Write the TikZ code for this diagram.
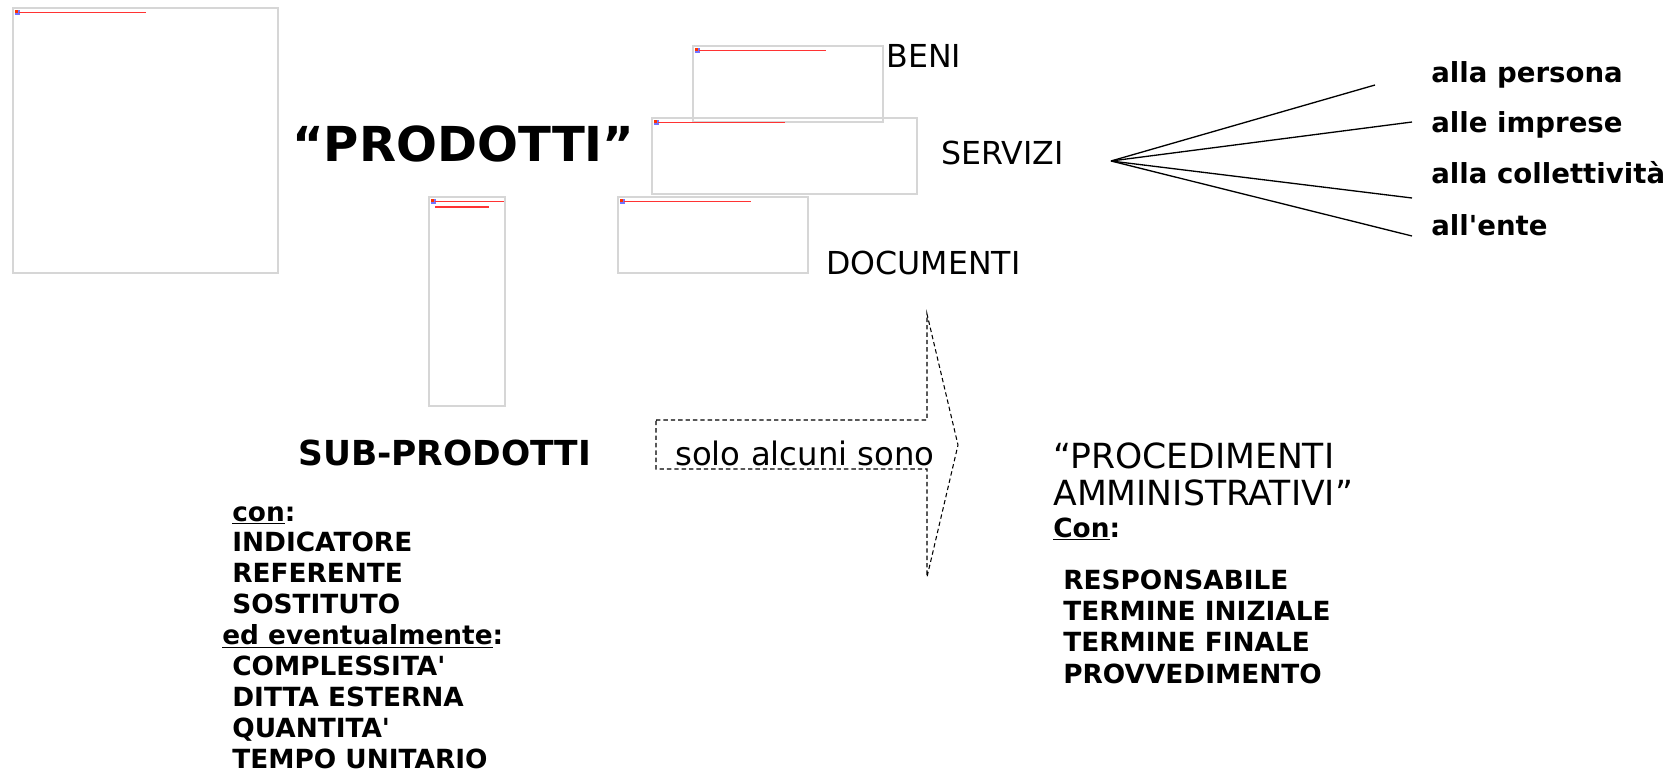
\documentclass[tikz,border=0pt]{standalone}
\usepackage{fontspec}
\setmainfont{DejaVu Sans}
\usetikzlibrary{positioning}

\begin{document}
\begin{tikzpicture}[x=0.02cm,y=-0.02cm,
  imgbox/.style={draw=black!16,line width=0.8pt},
  brokenlink/.style={red!80,line width=0.9pt},
  txt/.style={inner sep=0pt,anchor=base west},
  plain/.style={txt,font=\fontsize{18}{22}\selectfont},
  procfont/.style={txt,font=\fontsize{19.7}{24}\selectfont},
  title/.style={txt,font=\bfseries\fontsize{27.4}{33}\selectfont},
  subtitle/.style={txt,font=\bfseries\fontsize{19.6}{24}\selectfont},
  fanlbl/.style={txt,font=\bfseries\fontsize{15.7}{19}\selectfont},
  listtxt/.style={txt,font=\bfseries\fontsize{15}{18}\selectfont},
  fanline/.style={line width=0.75pt},
  bigarrow/.style={dashed,line width=0.6pt,dash pattern=on 2.5pt off 1.7pt}]
\useasboundingbox (0,0) rectangle (1680,771);
% broken images
\foreach \xa/\ya/\xb/\yb/\bl in {13/8/278/273/127, 693/46/883/122/127,
    652/118/917/194/127, 618/197/808/273/127, 429/197/505/406/69}{
  \draw[imgbox] (\xa,\ya) rectangle (\xb,\yb);
  \fill[blue!55] (\xa+1.5,\ya+2) rectangle ++(5,5);
  \fill[red!80!yellow] (\xa+1.5,\ya+2) rectangle ++(3,3);
  \draw[brokenlink] (\xa+6,\ya+4.5) -- ++(\bl,0);
}
\draw[brokenlink] (435,207) -- (489,207);
% headings
\node[title] (prod) at (292,161) {“PRODOTTI”};
\node[plain] (beni) at (886,67) {BENI};
\node[plain] (serv) at (941,164) {SERVIZI};
\node[plain] (doc) at (826,274) {DOCUMENTI};
\node[subtitle] (subprod) at (298,465) {SUB-PRODOTTI};
% fan
\coordinate (fan) at (1111,161);
\coordinate (e1) at (1375,85);
\coordinate (e2) at (1412,122);
\coordinate (e3) at (1412,198);
\coordinate (e4) at (1412,236);
\foreach \e in {e1,e2,e3,e4}
  \draw[fanline] (fan) -- (\e);
\node[fanlbl] (pers) at (1431,82) {alla persona};
\node[fanlbl] (impr) at (1431,132) {alle imprese};
\node[fanlbl] (coll) at (1431,183) {alla collettività};
\node[fanlbl] (ente) at (1431,235) {all\textquotesingle ente};
% arrow
\draw[bigarrow] (656,420) -- (927,420) -- (927,314) -- (958,445)
  -- (927,577) -- (927,469) -- (656,469) -- cycle;
\node[plain,font=\fontsize{18.4}{22}\selectfont] (solo) at (675,465) {solo alcuni sono};
% sub-prodotti list
\foreach \t [count=\i from 0] in {\underline{con}:, INDICATORE, REFERENTE, SOSTITUTO,
    \hspace*{-5.7pt}\underline{ed eventualmente}:, COMPLESSITA\textquotesingle,
    DITTA ESTERNA, QUANTITA\textquotesingle, TEMPO UNITARIO}
  \node[listtxt] (sub\i) at (232,521+30.9*\i) {\t};
% procedimenti
\node[procfont] (proc1) at (1053,468) {“PROCEDIMENTI};
\node[procfont] (proc2) at (1053,505) {AMMINISTRATIVI”};
\node[listtxt] (con) at (1053,537) {\underline{Con}:};
\foreach \t [count=\i from 0] in {RESPONSABILE, TERMINE INIZIALE, TERMINE FINALE, PROVVEDIMENTO}
  \node[listtxt] (proc\i) at (1063,589+31.4*\i) {\t};
\end{tikzpicture}
\end{document}
